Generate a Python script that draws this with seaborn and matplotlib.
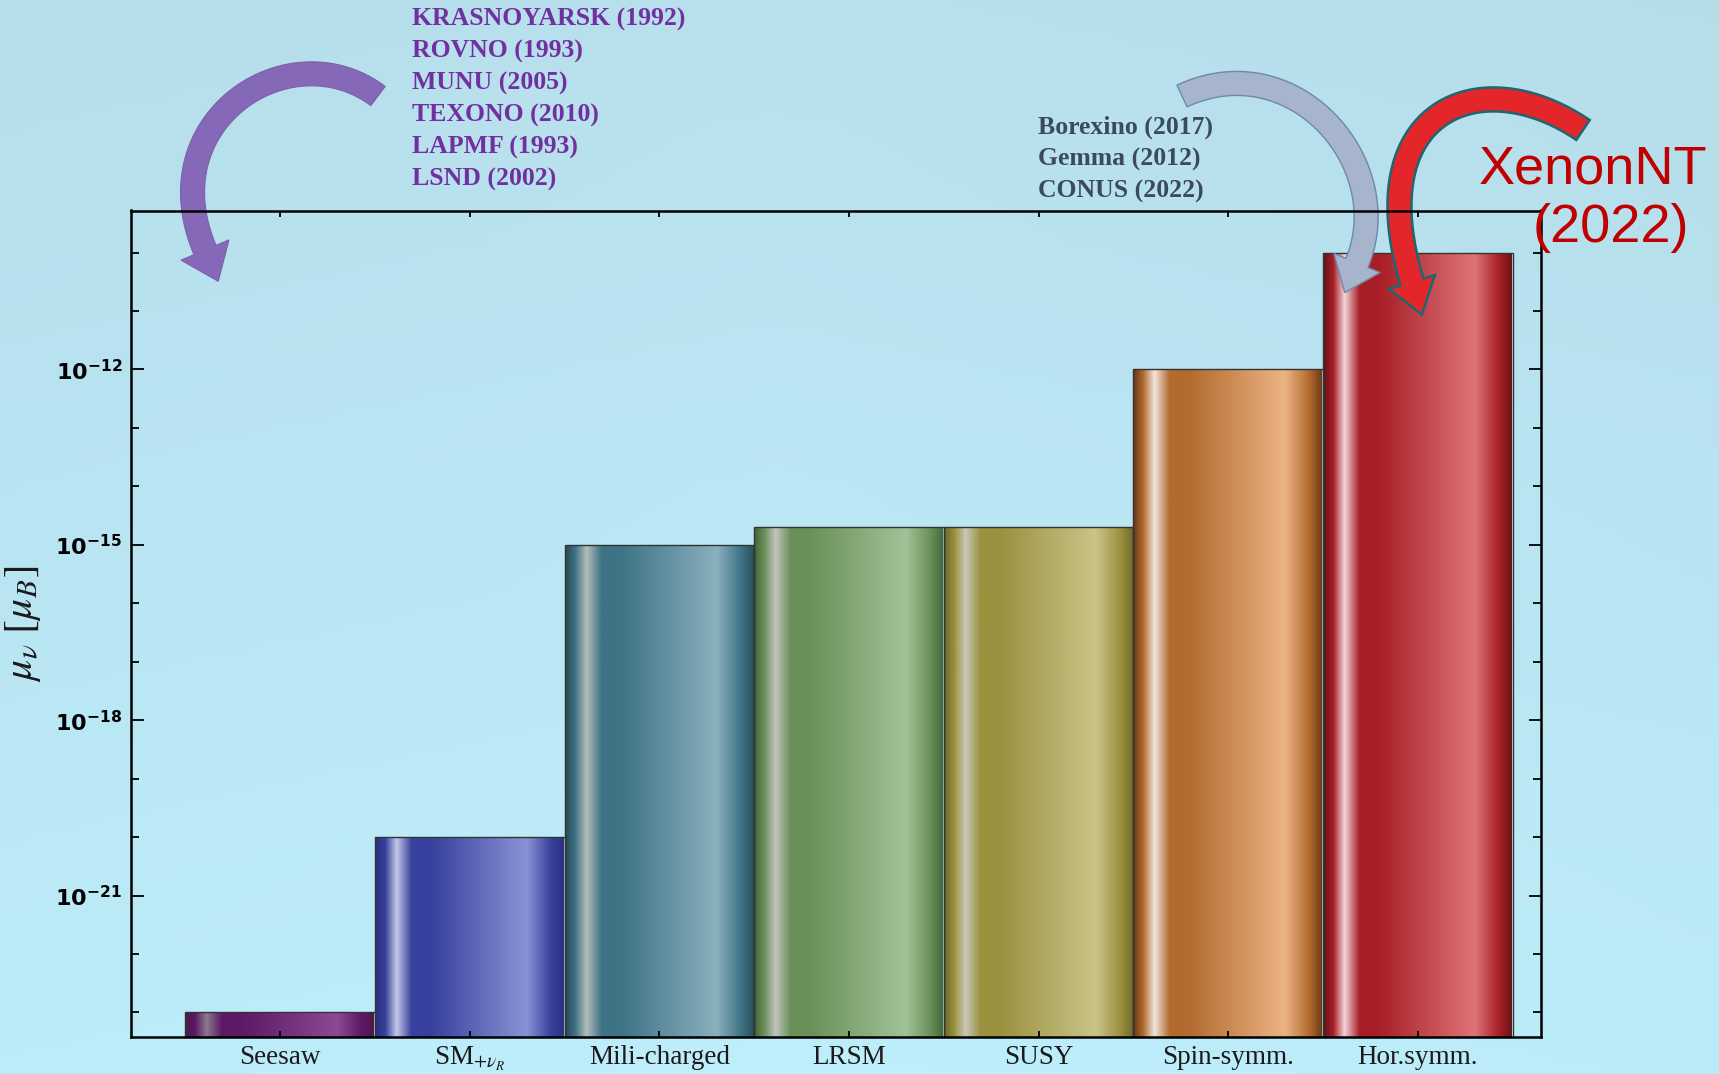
import numpy as np
import pandas as pd
import matplotlib
matplotlib.use("Agg")
import matplotlib.pyplot as plt
import seaborn as sns
from matplotlib.colors import LinearSegmentedColormap
from matplotlib.patches import Polygon
from matplotlib.ticker import NullFormatter

# ---------------- data ----------------
models = ["Seesaw", r"SM$_{+\nu_R}$", "Mili-charged", "LRSM", "SUSY", "Spin-symm.", "Hor.symm."]
mu_nu = [1e-23, 1e-20, 1e-15, 2e-15, 2e-15, 1e-12, 1e-10]
major_yticks = [1e-21, 1e-18, 1e-15, 1e-12]
major_ylabels = [r"$\mathbf{10^{-21}}$", r"$\mathbf{10^{-18}}$", r"$\mathbf{10^{-15}}$", r"$\mathbf{10^{-12}}$"]
minor_yticks = [10.0 ** k for k in range(-23, -9) if k not in (-21, -18, -15, -12)]
reactor_expts = ["KRASNOYARSK (1992)", "ROVNO (1993)", "MUNU (2005)",
                 "TEXONO (2010)", "LAPMF (1993)", "LSND (2002)"]
solar_expts = ["Borexino (2017)", "Gemma (2012)", "CONUS (2022)"]

# gradient stops per bar: (edge, highlight, base, light)
bar_shades = [
    ("#4a1848", "#8a7a8c", "#5c1a66", "#8c4a94"),
    ("#2c3280", "#c4c6e6", "#37409c", "#8a92d6"),
    ("#2a4a58", "#b4bcbc", "#3d7385", "#8ab0be"),
    ("#45663a", "#c2c4c0", "#6a9058", "#a2c298"),
    ("#6e6a2a", "#cac8b8", "#9a913e", "#cac488"),
    ("#6a3818", "#f2e6de", "#b26a2e", "#ecb484"),
    ("#641416", "#f2d4d8", "#a81e26", "#de7478"),
]

W, H = 1719, 1074
fig = plt.figure(figsize=(W / 100, H / 100), dpi=100)

# background gradient
bg = fig.add_axes([0, 0, 1, 1], zorder=-5)
yy = np.linspace(0, 1, 200)[:, None]
xx = np.linspace(0, 1, 300)[None, :]
top = np.array([182, 221, 234]) / 255
bot = np.array([188, 236, 249]) / 255
img = top[None, None, :] * (1 - yy[..., None]) + bot[None, None, :] * yy[..., None]
img = img + 0.02 * (0.5 - np.abs(xx[..., None] - 0.45)) * np.ones((1, 1, 3))
img = np.clip(img, 0, 1)
bg.imshow(img, extent=(0, 1, 0, 1), aspect="auto", origin="upper")
bg.set_axis_off()

ax = fig.add_axes([130.5 / W, 1 - 1037 / H, (1541 - 130.5) / W, (1037 - 210.5) / H])
ax.set_facecolor("none")
ax.set_yscale("log")

df = pd.DataFrame({"model": models, "mu": mu_nu})
sns.barplot(data=df, x="model", y="mu", hue="model", palette=[s[2] for s in bar_shades],
            width=1.0, dodge=False, legend=False, ax=ax, saturation=1.0,
            edgecolor="#333333", linewidth=1.0)

ymin, ymax = 10 ** -23.42, 10 ** -9.28
ax.set_ylim(ymin, ymax)

# cylinder-like shading clipped to each bar
pos = [0.0, 0.05, 0.11, 0.19, 0.29, 0.80, 0.93, 1.0]
for patch, (edge, hi, base, light) in zip(ax.patches, bar_shades):
    cols = [edge, base, hi, base, base, light, base, edge]
    cmap = LinearSegmentedColormap.from_list("g", list(zip(pos, cols)))
    grad = cmap(np.linspace(0, 1, 256))[None, :, :3]
    x0 = patch.get_x()
    w = patch.get_width()
    h = patch.get_y() + patch.get_height()
    im = ax.imshow(grad, extent=(x0, x0 + w, ymin, h), aspect="auto",
                   interpolation="bilinear", zorder=1.5, origin="lower")
    im.set_clip_path(patch)
    patch.set_facecolor("none")
    patch.set_zorder(1.8)

ax.set_xlim(-0.79, 6.65)
ax.set_ylim(ymin, ymax)

ax.set_yticks(major_yticks, major_ylabels)
ax.set_yticks(minor_yticks, minor=True)
ax.yaxis.set_minor_formatter(NullFormatter())
for lab in ax.get_yticklabels():
    lab.set_fontproperties(matplotlib.font_manager.FontProperties(size=16, math_fontfamily="dejavusans"))
ax.tick_params(axis="y", which="major", direction="in", length=9, width=1.3, left=True, right=True, pad=6)
ax.tick_params(axis="y", which="minor", direction="in", length=5.5, width=1.3, left=True, right=True)
ax.tick_params(axis="x", which="major", direction="in", length=4.5, width=1.3, top=True, bottom=True, pad=6)
ax.set_xticks(range(len(models)), models)
for lab in ax.get_xticklabels():
    lab.set_fontproperties(matplotlib.font_manager.FontProperties(family="Liberation Serif", size=19.5,
                                                                  math_fontfamily="stix"))
    lab.set_color("#1a1a1a")
ax.set_xlabel("")
ax.set_ylabel(r"$\mu_\nu\ \left[\mu_B\right]$", fontsize=30, math_fontfamily="stix", color="#1a1a1a")
ax.yaxis.set_label_coords(-0.062, 0.5)
for sp in ax.spines.values():
    sp.set_linewidth(1.8)
    sp.set_color("black")
    sp.set_zorder(3)


# curved annotation arrows (pixel coords, y down)
def bezier_arrow(P, w, hw, hl, fc, ec, lw):
    P = np.array(P, float)
    t = np.linspace(0, 1, 100)[:, None]
    pts = (1 - t) ** 3 * P[0] + 3 * (1 - t) ** 2 * t * P[1] + 3 * (1 - t) * t ** 2 * P[2] + t ** 3 * P[3]
    d = 3 * (1 - t) ** 2 * (P[1] - P[0]) + 6 * (1 - t) * t * (P[2] - P[1]) + 3 * t ** 2 * (P[3] - P[2])
    d /= np.linalg.norm(d, axis=1)[:, None]
    n = np.stack([-d[:, 1], d[:, 0]], axis=1)
    left = pts + n * w / 2
    right = pts - n * w / 2
    B, u, nn = pts[-1], d[-1], n[-1]
    head = np.array([B + nn * hw / 2, B + u * hl, B - nn * hw / 2])
    poly = np.vstack([left, head, right[::-1]])
    polyf = np.column_stack([poly[:, 0] / W, 1 - poly[:, 1] / H])
    ax.add_artist(Polygon(polyf, closed=True, transform=fig.transFigure, fc=fc, ec=ec,
                          lw=lw, zorder=2.2, clip_on=False))


bezier_arrow([(378, 96), (290, 30), (150, 120), (205, 250)], 24, 52, 34, "#8668b8", "#7a60a8", 0.8)
bezier_arrow([(1182, 96), (1294, 44), (1398, 164), (1357, 263)], 24, 50, 32, "#a6b4cc", "#6f88aa", 1.0)
bezier_arrow([(1583, 130), (1480, 60), (1360, 110), (1412, 282)], 24, 48, 34, "#e3262a", "#1e6670", 1.8)

# annotation texts
for i, s in enumerate(reactor_expts):
    fig.text(412 / W, 1 - (19 + 32 * i) / H, s, fontsize=18.5, fontweight="bold",
             family="Liberation Serif", color="#7030a0", va="center", ha="left")
for i, s in enumerate(solar_expts):
    fig.text(1038 / W, 1 - (127 + 32 * i) / H, s, fontsize=18.5, fontweight="bold",
             family="Liberation Serif", color="#3b4a5c", va="center", ha="left")
fig.text(1593 / W, 1 - 170 / H, "XenonNT", fontsize=39, family="Liberation Sans",
         color="#c00000", va="center", ha="center")
fig.text(1611 / W, 1 - 228 / H, "(2022)", fontsize=39, family="Liberation Sans",
         color="#c00000", va="center", ha="center")

fig.savefig("out.png", dpi=100)
